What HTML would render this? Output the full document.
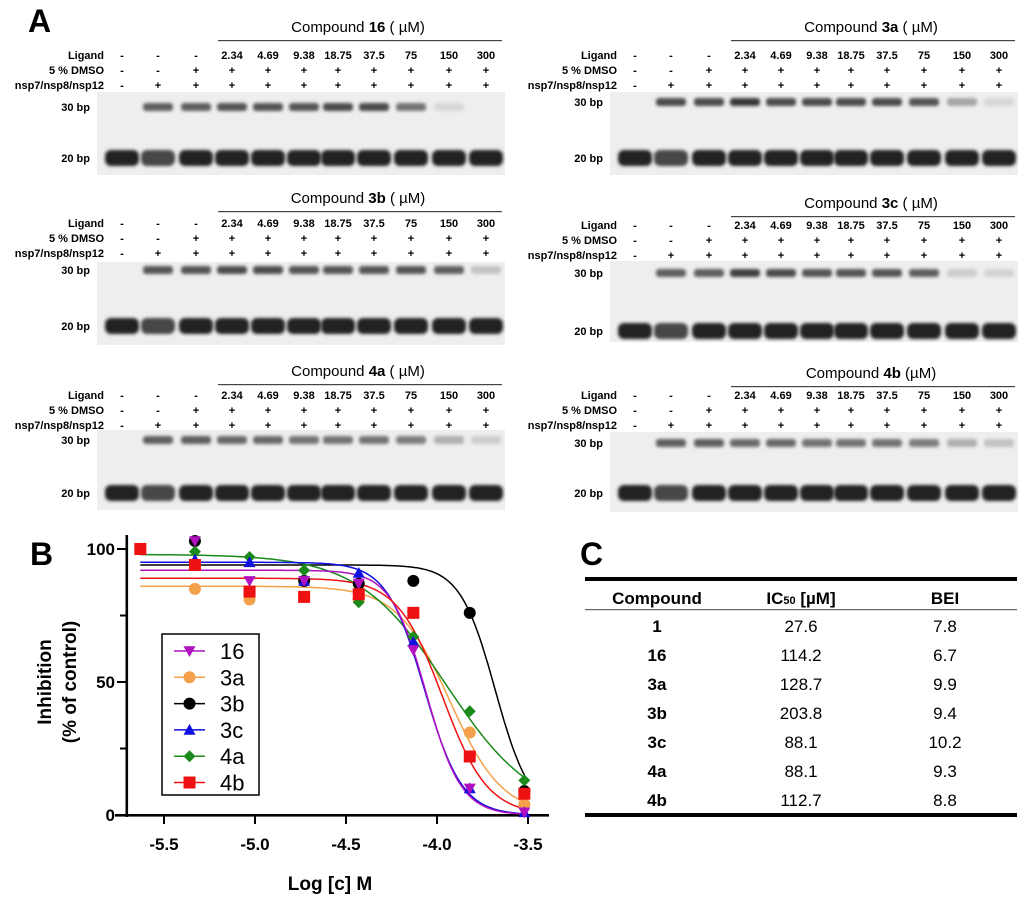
<!DOCTYPE html>
<html><head><meta charset="utf-8"><style>
html,body{margin:0;padding:0;background:#fff;}
svg{display:block;font-family:"Liberation Sans",Arial,sans-serif;}
</style></head><body>
<svg id="s" width="1024" height="899" viewBox="0 0 1024 899" xmlns="http://www.w3.org/2000/svg">
<defs>
<filter id="bl" x="-30%" y="-80%" width="160%" height="260%"><feGaussianBlur stdDeviation="1.5"/></filter>
</defs>
<text x="28" y="32" font-size="32" font-weight="bold">A</text>
<text x="30" y="565" font-size="32" font-weight="bold">B</text>
<text x="580" y="565" font-size="32" font-weight="bold">C</text>
<g id="gels"></g>
<g id="chart"></g>
<g id="table" font-size="17" text-anchor="middle">
<rect x="585" y="577" width="432" height="4" fill="#000"/>
<text x="657" y="604" font-weight="bold">Compound</text>
<text x="801" y="604" font-weight="bold">IC<tspan font-size="11">50</tspan> [µM]</text>
<text x="945" y="604" font-weight="bold">BEI</text>
<rect x="585" y="609" width="432" height="1.2" fill="#666"/>
<text x="657" y="632" font-weight="bold">1</text><text x="801" y="632">27.6</text><text x="945" y="632">7.8</text>
<text x="657" y="661" font-weight="bold">16</text><text x="801" y="661">114.2</text><text x="945" y="661">6.7</text>
<text x="657" y="690" font-weight="bold">3a</text><text x="801" y="690">128.7</text><text x="945" y="690">9.9</text>
<text x="657" y="719" font-weight="bold">3b</text><text x="801" y="719">203.8</text><text x="945" y="719">9.4</text>
<text x="657" y="748" font-weight="bold">3c</text><text x="801" y="748">88.1</text><text x="945" y="748">10.2</text>
<text x="657" y="777" font-weight="bold">4a</text><text x="801" y="777">88.1</text><text x="945" y="777">9.3</text>
<text x="657" y="806" font-weight="bold">4b</text><text x="801" y="806">112.7</text><text x="945" y="806">8.8</text>
<rect x="585" y="813" width="432" height="4" fill="#000"/>
</g>
</svg>
<script>
var out="";
var panels=[
 {ox:0,name:"16",paren:"( µM)",t:27,lig:55,gel:[92,175],b30:107,b20:158,f30:[0,.7,.7,.75,.75,.75,.8,.8,.6,.1,0]},
 {ox:513,name:"3a",paren:"( µM)",t:27,lig:55,gel:[92,175],b30:102,b20:158,f30:[0,.8,.8,.9,.8,.8,.8,.8,.75,.35,.1]},
 {ox:0,name:"3b",paren:"( µM)",t:198,lig:223,gel:[262,345],b30:270,b20:326,f30:[0,.75,.75,.8,.8,.75,.75,.75,.75,.7,.2]},
 {ox:513,name:"3c",paren:"( µM)",t:203,lig:225,gel:[261,342],b30:273,b20:331,f30:[0,.7,.7,.85,.8,.75,.75,.75,.7,.15,.12]},
 {ox:0,name:"4a",paren:"( µM)",t:371,lig:395,gel:[430,510],b30:440,b20:493,f30:[0,.7,.7,.65,.65,.6,.6,.6,.55,.3,.15]},
 {ox:513,name:"4b",paren:"(µM)",t:373,lig:395,gel:[432,512],b30:443,b20:493,f30:[0,.7,.7,.65,.65,.6,.6,.6,.55,.3,.2]}
];
var lanes=[122,158,196,232,268,304,338,374,411,449,486];
var lig=["-","-","-","2.34","4.69","9.38","18.75","37.5","75","150","300"];
var dm=["-","-","+","+","+","+","+","+","+","+","+"];
var np=["-","+","+","+","+","+","+","+","+","+","+"];
panels.forEach(function(p){
 var o=p.ox;
 out+='<text x="'+(o+358)+'" y="'+(p.t+5)+'" font-size="15" text-anchor="middle">Compound <tspan font-weight="bold">'+p.name+'</tspan> '+p.paren+'</text>';
 out+='<rect x="'+(o+218)+'" y="'+(p.t+13)+'" width="284" height="1.2" fill="#444"/>';
 var rows=[["Ligand",lig,p.lig],["5 % DMSO",dm,p.lig+15],["nsp7/nsp8/nsp12",np,p.lig+30]];
 rows.forEach(function(r){
  out+='<text x="'+(o+104)+'" y="'+(r[2]+4)+'" font-size="11" font-weight="bold" text-anchor="end">'+r[0]+'</text>';
  r[1].forEach(function(v,i){out+='<text x="'+(o+lanes[i])+'" y="'+(r[2]+4)+'" font-size="11" font-weight="bold" text-anchor="middle">'+v+'</text>';});
 });
 out+='<rect x="'+(o+97)+'" y="'+p.gel[0]+'" width="408" height="'+(p.gel[1]-p.gel[0])+'" fill="#eeeeee"/>';
 out+='<text x="'+(o+90)+'" y="'+(p.b30+4)+'" font-size="11" font-weight="bold" text-anchor="end">30 bp</text>';
 out+='<text x="'+(o+90)+'" y="'+(p.b20+4)+'" font-size="11" font-weight="bold" text-anchor="end">20 bp</text>';
 lanes.forEach(function(x,i){
  var f=p.f30[i];
  if(f>0){var g=Math.round(235-f*200);out+='<rect x="'+(o+x-15)+'" y="'+(p.b30-4)+'" width="30" height="8" rx="3" fill="rgb('+g+','+g+','+g+')" filter="url(#bl)"/>';}
  var g2=i==1?70:35;
  out+='<rect x="'+(o+x-17)+'" y="'+(p.b20-8)+'" width="34" height="16" rx="6" fill="rgb('+g2+','+g2+','+g2+')" filter="url(#bl)"/>';
 });
});
document.getElementById("gels").innerHTML=out;

var c="";
function X(v){return 437+(v+4)*182;}
function Y(v){return 815-v*2.66;}
c+='<rect x="125.5" y="535" width="2.6" height="282" fill="#000"/>';
c+='<rect x="115" y="814" width="434" height="2.6" fill="#000"/>';
[0,25,50,75,100].forEach(function(v){var big=v%50==0;c+='<rect x="'+(big?117:120)+'" y="'+(Y(v)-1)+'" width="'+(big?10:7)+'" height="2" fill="#000"/>';
 if(big)c+='<text x="115" y="'+(Y(v)+6)+'" font-size="17" font-weight="bold" text-anchor="end">'+v+'</text>';});
[-5.5,-5,-4.5,-4,-3.5].forEach(function(v){c+='<rect x="'+(X(v)-1)+'" y="815" width="2" height="9" fill="#000"/>';
 c+='<text x="'+X(v)+'" y="850" font-size="17" font-weight="bold" text-anchor="middle">'+v.toFixed(1)+'</text>';});
c+='<text x="330" y="890" font-size="19" font-weight="bold" text-anchor="middle">Log [c] M</text>';
c+='<text transform="translate(51,682) rotate(-90)" font-size="19" font-weight="bold" text-anchor="middle">Inhibition</text>';
c+='<text transform="translate(76,682) rotate(-90)" font-size="19" font-weight="bold" text-anchor="middle">(% of control)</text>';
var xs=[-5.63,-5.33,-5.03,-4.73,-4.43,-4.13,-3.82,-3.52];
var S=[
 {n:"3a",col:"#f5a04a",m:"c",top:86,ic:-3.93,hl:3,d:[100,85,81,82,81,76,31,4]},
 {n:"3b",col:"#000",m:"c",top:94,ic:-3.68,hl:4.5,d:[null,103,null,88,87,88,76,9]},
 {n:"4a",col:"#1a8a1a",m:"d",top:98,ic:-3.95,hl:1.8,d:[null,99,97,92,80,67,39,13]},
 {n:"3c",col:"#1010e0",m:"t",top:95,ic:-4.07,hl:4.2,d:[null,96,95,88,91,65,10,1]},
 {n:"16",col:"#b010c0",m:"v",top:92,ic:-4.06,hl:4.5,d:[100,103,88,88,87,62,10,1]},
 {n:"4b",col:"#ee1111",m:"s",top:89,ic:-3.97,hl:3.5,d:[100,94,84,82,83,76,22,8]}
];
function mk(m,x,y,col,sz){sz=sz||6;
 if(m=="c")return '<circle cx="'+x+'" cy="'+y+'" r="'+sz+'" fill="'+col+'"/>';
 if(m=="s")return '<rect x="'+(x-sz)+'" y="'+(y-sz)+'" width="'+(2*sz)+'" height="'+(2*sz)+'" fill="'+col+'"/>';
 if(m=="d")return '<polygon points="'+x+','+(y-sz)+' '+(x+sz)+','+y+' '+x+','+(y+sz)+' '+(x-sz)+','+y+'" fill="'+col+'"/>';
 if(m=="t")return '<polygon points="'+x+','+(y-sz)+' '+(x+sz)+','+(y+sz*0.8)+' '+(x-sz)+','+(y+sz*0.8)+'" fill="'+col+'"/>';
 if(m=="v")return '<polygon points="'+x+','+(y+sz)+' '+(x+sz)+','+(y-sz*0.8)+' '+(x-sz)+','+(y-sz*0.8)+'" fill="'+col+'"/>';
}
S.forEach(function(s){
 var pts=[];for(var v=-5.63;v<=-3.519;v+=0.01){var y=s.top/(1+Math.pow(10,(v-s.ic)*s.hl));pts.push(X(v).toFixed(1)+","+Y(y).toFixed(1));}
 c+='<polyline points="'+pts.join(" ")+'" fill="none" stroke="'+s.col+'" stroke-width="1.5"/>';
});
S.forEach(function(s){s.d.forEach(function(v,i){if(v!=null)c+=mk(s.m,X(xs[i]),Y(v),s.col);});});
c+='<rect x="162" y="634" width="97" height="161" fill="#fff" stroke="#000" stroke-width="1.5"/>';
var L=[["16","#b010c0","v"],["3a","#f5a04a","c"],["3b","#000","c"],["3c","#1010e0","t"],["4a","#1a8a1a","d"],["4b","#ee1111","s"]];
L.forEach(function(l,i){var y=651+i*26.3;
 c+='<line x1="174" y1="'+y+'" x2="205" y2="'+y+'" stroke="'+l[1]+'" stroke-width="1.5"/>'+mk(l[2],189.5,y,l[1],6);
 c+='<text x="220" y="'+(y+8)+'" font-size="22">'+l[0]+'</text>';});
document.getElementById("chart").innerHTML=c;
</script>
</body></html>
